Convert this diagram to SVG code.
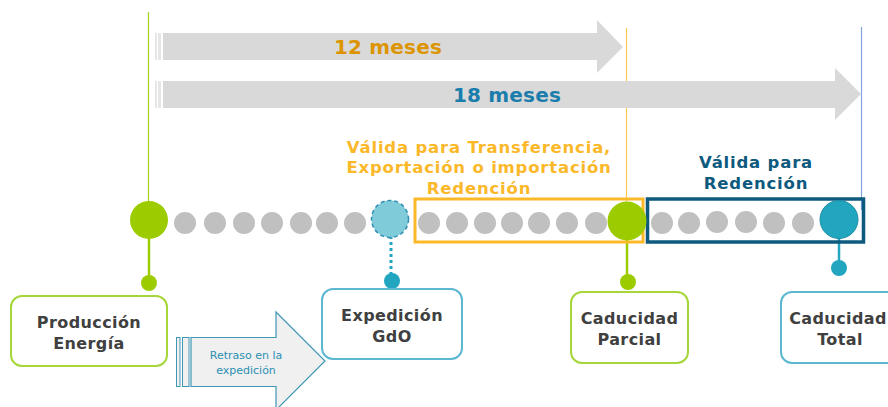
<svg xmlns="http://www.w3.org/2000/svg" width="888" height="407" viewBox="0 0 888 407">
<style>
.t{font-family:"DejaVu Sans",Verdana,sans-serif;font-weight:bold;text-anchor:middle}
.lbl{font-size:16px;fill:#404040;letter-spacing:0.4px}
.big{font-size:20px;letter-spacing:0.2px}
.hdr{font-size:16.5px;letter-spacing:0.8px}
.gray{fill:#c0c0c0}
.band{fill:#d9d9d9}
.stripe{fill:#e6e6e6}
</style>
<rect width="888" height="407" fill="#ffffff"/>
<g id="guides">
<line x1="148.5" y1="12" x2="148.5" y2="210" stroke="#a5d21a" stroke-width="1.2"/>
<line x1="626.5" y1="28" x2="626.5" y2="210" stroke="#ffc94d" stroke-width="1.2"/>
<line x1="861.5" y1="27" x2="861.5" y2="210" stroke="#7fa6e0" stroke-width="1.2"/>
</g>
<g id="arrow12">
<rect class="stripe" x="155" y="33" width="2" height="27"/>
<rect class="stripe" x="158" y="33" width="3" height="27"/>
<polygon class="band" points="163,33 597,33 597,20 623,47 597,73 597,60 163,60"/>
<text class="t big" x="388" y="54" fill="#dc9500">12 meses</text>
</g>
<g id="arrow18">
<rect class="stripe" x="155" y="81" width="2" height="27"/>
<rect class="stripe" x="158" y="81" width="3" height="27"/>
<polygon class="band" points="163,81 835,81 835,68 861,94 835,120 835,108 163,108"/>
<text class="t big" x="507" y="102" fill="#1a7dac">18 meses</text>
</g>
<g id="label-transfer">
<text class="t hdr" fill="#fbb829"><tspan x="479" y="153">Válida para Transferencia,</tspan><tspan x="479" y="173">Exportación o importación</tspan><tspan x="479" y="194">Redención</tspan></text>
</g>
<g id="label-redencion">
<text class="t hdr" fill="#0e5a7e"><tspan x="756" y="168">Válida para</tspan><tspan x="756" y="189">Redención</tspan></text>
</g>
<g id="connectors">
<line x1="149" y1="230" x2="149" y2="283" stroke="#9ccc00" stroke-width="2.5"/>
<line x1="391" y1="236" x2="391" y2="278" stroke="#22a6c0" stroke-width="3" stroke-dasharray="3,3"/>
<line x1="627" y1="230" x2="627" y2="282" stroke="#9ccc00" stroke-width="2.5"/>
<line x1="839" y1="230" x2="839" y2="268" stroke="#22a6c0" stroke-width="2.5"/>
</g>
<g id="dots">
<circle class="gray" cx="185" cy="223" r="11"/>
<circle class="gray" cx="215" cy="223" r="11"/>
<circle class="gray" cx="244" cy="223" r="11"/>
<circle class="gray" cx="272" cy="223" r="11"/>
<circle class="gray" cx="301" cy="223" r="11"/>
<circle class="gray" cx="327" cy="223" r="11"/>
<circle class="gray" cx="355" cy="223" r="11"/>
<circle class="gray" cx="429" cy="223" r="11"/>
<circle class="gray" cx="457" cy="223" r="11"/>
<circle class="gray" cx="485" cy="223" r="11"/>
<circle class="gray" cx="512" cy="223" r="11"/>
<circle class="gray" cx="539" cy="223" r="11"/>
<circle class="gray" cx="567" cy="223" r="11"/>
<circle class="gray" cx="596" cy="223" r="11"/>
<circle class="gray" cx="662" cy="223" r="11"/>
<circle class="gray" cx="689" cy="223" r="11"/>
<circle class="gray" cx="717" cy="222" r="11"/>
<circle class="gray" cx="746" cy="222" r="11"/>
<circle class="gray" cx="774" cy="223" r="11"/>
<circle class="gray" cx="803" cy="223" r="11"/>
</g>
<g id="box-transfer">
<rect x="415" y="199" width="228" height="43" fill="none" stroke="#fbb829" stroke-width="3"/>
</g>
<g id="box-redencion">
<rect x="647.5" y="199" width="216" height="43" fill="none" stroke="#0e5a7e" stroke-width="3.5"/>
</g>
<g id="milestone-produccion">
<circle cx="149" cy="220" r="19" fill="#9ccc00"/>
<circle cx="149" cy="283" r="8" fill="#9ccc00"/>
</g>
<g id="milestone-expedicion">
<circle cx="390" cy="219" r="18.5" fill="#80cbda" stroke="#2e8fb3" stroke-width="1.5" stroke-dasharray="4,3"/>
<circle cx="392" cy="281" r="8" fill="#22a6c0"/>
</g>
<g id="milestone-parcial">
<circle cx="627" cy="221" r="19.5" fill="#9ccc00"/>
<circle cx="628" cy="282" r="8" fill="#9ccc00"/>
</g>
<g id="milestone-total">
<circle cx="839" cy="219.5" r="19" fill="#22a6c0" stroke="#1d8ca3" stroke-width="1"/>
<circle cx="839" cy="268" r="8" fill="#22a6c0"/>
</g>
<g id="node-produccion">
<rect x="11" y="296" width="156" height="70" rx="11" fill="#fff" stroke="#a6d63a" stroke-width="2"/>
<text class="t lbl"><tspan x="89" y="328">Producción</tspan><tspan x="89" y="349">Energía</tspan></text>
</g>
<g id="node-expedicion">
<rect x="322" y="289" width="140" height="70" rx="11" fill="#fff" stroke="#5bb8d0" stroke-width="2"/>
<text class="t lbl"><tspan x="392" y="321">Expedición</tspan><tspan x="392" y="342">GdO</tspan></text>
</g>
<g id="node-parcial">
<rect x="571" y="292" width="117" height="71" rx="11" fill="#fff" stroke="#a6d63a" stroke-width="2"/>
<text class="t lbl"><tspan x="629.5" y="324">Caducidad</tspan><tspan x="629.5" y="345">Parcial</tspan></text>
</g>
<g id="node-total">
<rect x="781" y="292" width="130" height="71" rx="11" fill="#fff" stroke="#5bb8d0" stroke-width="2"/>
<text class="t lbl"><tspan x="838" y="324">Caducidad</tspan><tspan x="840" y="345">Total</tspan></text>
</g>
<g id="delay-arrow">
<rect x="176.5" y="337.5" width="3.5" height="49" fill="#f0f0f0" stroke="#3f97b5" stroke-width="1"/>
<rect x="182.5" y="337.5" width="6.5" height="49" fill="#f0f0f0" stroke="#3f97b5" stroke-width="1"/>
<polygon points="191,337.5 276,337.5 276,312 325,361 276,410 276,386.5 191,386.5" fill="#f0f0f0" stroke="#3f97b5" stroke-width="1.2"/>
<text font-family="'DejaVu Sans',Verdana,sans-serif" font-size="11" fill="#2a8fb0" text-anchor="middle"><tspan x="246" y="359">Retraso en la</tspan><tspan x="246" y="374">expedición</tspan></text>
</g>
</svg>
